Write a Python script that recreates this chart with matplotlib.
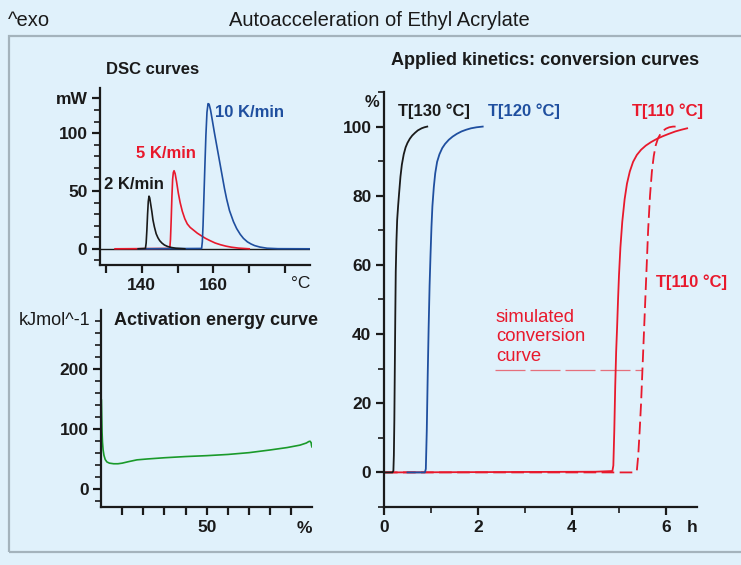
import matplotlib
matplotlib.use("Agg")
import matplotlib.pyplot as plt
from matplotlib.patches import Rectangle
from matplotlib.ticker import MultipleLocator, FixedLocator

plt.rcParams['font.family'] = ['Liberation Sans', 'DejaVu Sans']

BG = '#e0f1fb'
RED = '#e8192c'
BLUE = '#1f4f9f'
BLACK = '#1a1a1a'
GREEN = '#1a9a2a'

# DSC curves (temperature in C, heat flow in mW)
dsc2_T = [139.0, 141.0, 141.2, 141.4, 141.6, 141.8, 142.0, 142.2, 142.5, 142.8, 143.1, 143.5, 144.0, 144.5,
          145.0, 145.6, 146.3, 147.2, 148.3, 149.5, 151.0, 152.0]
dsc2_W = [0.0, 0.3, 5.0, 16.0, 30.0, 41.0, 45.5, 44.0, 38.0, 32.0, 25.0, 19.0, 13.0, 9.5,
          7.0, 5.0, 3.3, 2.0, 1.1, 0.5, 0.2, 0.0]
dsc5_T = [132.5, 147.8, 148.0, 148.2, 148.4, 148.6, 148.8, 149.0, 149.3, 149.7, 150.2, 150.7, 151.3, 152.0,
          152.7, 153.5, 154.5, 155.5, 156.5, 157.8, 159.1, 160.5, 162.0, 163.5, 165.0, 167.0, 170.0]
dsc5_W = [0.0, 0.3, 8.0, 25.0, 45.0, 60.0, 66.0, 67.5, 65.0, 58.0, 48.0, 40.0, 32.5, 26.0,
          21.5, 18.5, 16.0, 13.5, 11.5, 9.0, 7.0, 5.0, 3.5, 2.3, 1.4, 0.6, 0.0]
dsc10_T = [139.0, 156.7, 156.9, 157.1, 157.3, 157.6, 157.9, 158.2, 158.5, 158.8, 159.2, 159.7, 160.3, 161.0,
           161.7, 162.4, 163.1, 163.7, 164.5, 165.6, 166.5, 167.5, 168.4, 169.5, 170.5, 171.5, 173.0, 175.0,
           178.0, 187.0]
dsc10_W = [0.0, 0.3, 6.0, 20.0, 40.0, 70.0, 98.0, 118.0, 125.5, 125.0, 120.0, 111.0, 100.0, 88.0,
           76.0, 64.0, 52.0, 43.0, 33.0, 23.5, 17.5, 12.5, 9.0, 6.0, 4.2, 2.8, 1.5, 0.5,
           0.1, 0.0]

# activation energy (conversion %, kJ/mol)
ea_x = [0.2, 0.35, 0.5, 0.7, 1.0, 1.4, 2.0, 2.8, 4.0, 6.0, 8.0, 10.0, 13.0, 17.0, 22.0, 30.0, 40.0, 50.0,
        60.0, 70.0, 80.0, 88.0, 94.0, 97.0, 98.2, 98.8, 99.3, 99.5, 99.7]
ea_y = [148.0, 120.0, 95.0, 78.0, 65.0, 56.0, 49.0, 45.0, 43.0, 42.0, 42.0, 43.0, 45.5, 48.5, 50.0, 52.0,
        54.0, 55.5, 57.5, 60.5, 65.0, 69.0, 73.0, 76.5, 79.0, 79.5, 77.0, 72.0, 70.0]

# conversion curves (time h, conversion %)
c130_t = [0.02, 0.18, 0.2, 0.21, 0.22, 0.23, 0.24, 0.25, 0.265, 0.28, 0.3, 0.32, 0.35, 0.38, 0.42, 0.46,
          0.5, 0.55, 0.6, 0.66, 0.72, 0.8, 0.86, 0.92]
c130_c = [0.0, 0.0, 0.5, 5.0, 15.0, 30.0, 45.0, 58.0, 67.0, 73.0, 77.0, 80.5, 85.5, 89.0, 92.0, 94.0,
          95.3, 96.5, 97.4, 98.2, 98.9, 99.5, 99.8, 100.0]
c120_t = [0.5, 0.87, 0.89, 0.91, 0.93, 0.95, 0.97, 0.99, 1.01, 1.03, 1.06, 1.09, 1.13, 1.18, 1.24, 1.3,
          1.38, 1.46, 1.55, 1.65, 1.75, 1.85, 1.97, 2.1]
c120_c = [0.0, 0.0, 1.0, 12.0, 28.0, 42.0, 54.0, 63.0, 71.0, 77.0, 82.5, 86.5, 89.8, 92.0, 93.8, 95.0,
          96.2, 97.1, 97.9, 98.6, 99.1, 99.5, 99.8, 100.0]
c110_t = [0.02, 4.5, 4.86, 4.88, 4.9, 4.92, 4.94, 4.96, 4.98, 5.0, 5.03, 5.07, 5.12, 5.17, 5.23, 5.3,
          5.38, 5.47, 5.57, 5.68, 5.8, 5.93, 6.06, 6.2, 6.33, 6.45]
c110_c = [0.0, 0.2, 0.4, 2.0, 12.0, 25.0, 35.0, 42.0, 50.0, 57.0, 65.0, 72.5, 79.0, 83.5, 87.0, 89.8,
          91.8, 93.3, 94.5, 95.5, 96.4, 97.2, 97.9, 98.6, 99.1, 99.5]
sim_t = [0.02, 5.32, 5.38, 5.41, 5.44, 5.47, 5.5, 5.53, 5.56, 5.59, 5.62, 5.66, 5.7, 5.74, 5.78, 5.83,
         5.88, 5.94, 6.0, 6.07, 6.15, 6.3]
sim_c = [0.0, 0.0, 0.5, 5.0, 12.0, 20.0, 30.0, 40.0, 50.0, 60.0, 70.0, 80.0, 87.0, 91.5, 94.5, 96.6,
         97.8, 98.8, 99.4, 99.8, 100.0, 100.0]
marker_y = 29.5
marker_x = [2.36, 5.49]


def style_axes(ax):
    ax.set_facecolor('none')
    for s in ['top', 'right']:
        ax.spines[s].set_visible(False)
    for s in ['left', 'bottom']:
        ax.spines[s].set_linewidth(1.6)
        ax.spines[s].set_color(BLACK)
    ax.tick_params(which='major', length=6, width=1.6, colors=BLACK, labelsize=12.5, pad=3)
    ax.tick_params(which='minor', length=4, width=1.2, colors=BLACK)
    for lab in ax.get_xticklabels() + ax.get_yticklabels():
        lab.set_fontweight('bold')


fig = plt.figure(figsize=(7.41, 5.65), dpi=100)
fig.patch.set_facecolor(BG)
fig.patches.append(Rectangle((9 / 741, 1 - 552 / 565), 740 / 741, 516 / 565, transform=fig.transFigure,
                             facecolor='none', edgecolor='#a4b3bc', lw=1.6))
fig.text(8 / 741, 1 - 20 / 565, '^exo', fontsize=14.5, va='center', ha='left', color=BLACK)
fig.text(379 / 741, 1 - 20 / 565, 'Autoacceleration of Ethyl Acrylate', fontsize=14.5,
         va='center', ha='center', color=BLACK)

# DSC
ax1 = fig.add_axes([100 / 741, 1 - 265 / 565, 210 / 741, 177 / 565])
ax1.axhline(0, color=BLACK, lw=1.0)
ax1.plot(dsc5_T, dsc5_W, color=RED, lw=1.2)
ax1.plot(dsc10_T, dsc10_W, color=BLUE, lw=1.2)
ax1.plot(dsc2_T, dsc2_W, color=BLACK, lw=1.2)
ax1.set_xlim(128.3, 187)
ax1.set_ylim(-14, 139)
ax1.xaxis.set_major_locator(FixedLocator([130, 140, 150, 160, 170, 180]))
ax1.set_xticklabels(['', '140', '', '160', '', ''])
ax1.yaxis.set_major_locator(FixedLocator([0, 50, 100, 130]))
ax1.set_yticklabels(['0', '50', '100', 'mW'])
ax1.yaxis.set_minor_locator(MultipleLocator(10))
style_axes(ax1)
ax1.text(184.3, -30, '°C', fontsize=12.5, ha='center', va='center', color=BLACK, clip_on=False)
ax1.text(130, 155, 'DSC curves', fontsize=12, fontweight='bold', ha='left', va='center', color=BLACK)
ax1.text(160.5, 118, '10 K/min', fontsize=12, fontweight='bold', ha='left', va='center', color=BLUE)
ax1.text(138.5, 82, '5 K/min', fontsize=12, fontweight='bold', ha='left', va='center', color=RED)
ax1.text(129.5, 56, '2 K/min', fontsize=12, fontweight='bold', ha='left', va='center', color=BLACK)

# activation energy
ax2 = fig.add_axes([101 / 741, 1 - 507 / 565, 211 / 741, 197 / 565])
ax2.plot(ea_x, ea_y, color=GREEN, lw=1.2)
ax2.set_xlim(0, 99.7)
ax2.set_ylim(-30, 298)
ax2.xaxis.set_major_locator(FixedLocator([10, 20, 30, 40, 50, 60, 70, 80, 90]))
ax2.set_xticklabels(['', '', '', '', '50', '', '', '', ''])
ax2.yaxis.set_major_locator(FixedLocator([0, 100, 200]))
ax2.yaxis.set_minor_locator(MultipleLocator(20))
style_axes(ax2)
ax2.text(96, -65, '%', fontsize=12.5, fontweight='bold', ha='center', va='center', color=BLACK, clip_on=False)
ax2.text(-5, 280, 'kJmol^-1', fontsize=13, ha='right', va='center', color=BLACK, clip_on=False)
ax2.text(6, 280, 'Activation energy curve', fontsize=13, fontweight='bold', ha='left', va='center',
         color=BLACK)

# conversion curves
ax3 = fig.add_axes([384 / 741, 1 - 507 / 565, 313 / 741, 415 / 565])
ax3.plot(marker_x, [marker_y, marker_y], color='#e5707c', lw=0.9, dashes=(24, 4))
ax3.plot(c110_t, c110_c, color=RED, lw=1.3)
ax3.plot(sim_t, sim_c, color=RED, lw=1.3, dashes=(7, 3))
ax3.plot(c120_t, c120_c, color=BLUE, lw=1.3)
ax3.plot(c130_t, c130_c, color=BLACK, lw=1.3)
ax3.set_xlim(0, 6.66)
ax3.set_ylim(-10, 110)
ax3.xaxis.set_major_locator(MultipleLocator(2))
ax3.xaxis.set_minor_locator(MultipleLocator(1))
ax3.yaxis.set_major_locator(FixedLocator([0, 20, 40, 60, 80, 100]))
ax3.yaxis.set_minor_locator(MultipleLocator(10))
style_axes(ax3)
ax3.text(6.55, -16, 'h', fontsize=12.5, fontweight='bold', ha='center', va='center', color=BLACK, clip_on=False)
ax3.text(-0.26, 107, '%', fontsize=12, fontweight='bold', ha='center', va='center', color=BLACK, clip_on=False)
ax3.text(3.42, 119, 'Applied kinetics: conversion curves', fontsize=13, fontweight='bold',
         ha='center', va='center', color=BLACK, clip_on=False)
ax3.text(0.3, 104.5, 'T[130 °C]', fontsize=12, fontweight='bold', ha='left', va='center', color=BLACK)
ax3.text(2.21, 104.5, 'T[120 °C]', fontsize=12, fontweight='bold', ha='left', va='center', color=BLUE)
ax3.text(6.03, 104.5, 'T[110 °C]', fontsize=12, fontweight='bold', ha='center', va='center', color=RED)
ax3.text(6.55, 55, 'T[110 °C]', fontsize=12, fontweight='bold', ha='center', va='center', color=RED,
         clip_on=False)
ax3.text(2.38, 39.2, 'simulated\nconversion\ncurve', fontsize=13.3, ha='left', va='center', color=RED,
         linespacing=1.2)

fig.savefig('out.png', dpi=100, facecolor=BG)
